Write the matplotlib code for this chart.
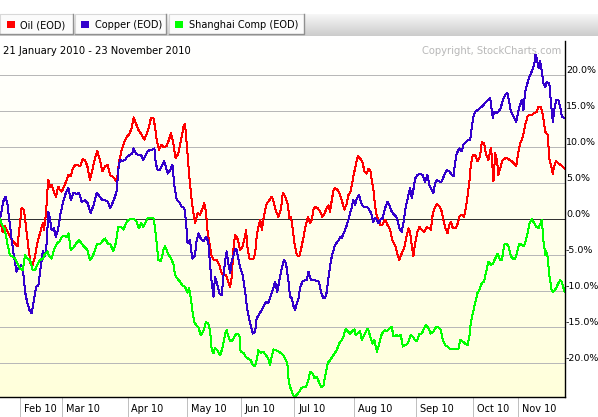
import matplotlib
matplotlib.use("Agg")
import matplotlib.pyplot as plt
import matplotlib.transforms as mtransforms
from matplotlib.colors import LinearSegmentedColormap
from matplotlib.patches import Rectangle
import numpy as np

# trading-session number since 21 Jan 2010 and % change
oil_t = [0, 0.9, 1.7, 2.9, 4.0, 5.2, 6.0, 6.6, 7.4, 8.2, 8.9, 9.7, 10.5, 11.2, 12.0, 12.8, 13.7, 14.7, 15.1, 15.8,
         16.3, 16.6, 17.2, 17.7, 18.3, 19.2, 20.0, 20.6, 21.2, 22.0, 22.9, 23.5, 24.3, 25.0, 25.8, 26.6, 27.5, 28.4,
         29.2, 30.0, 30.9, 31.8, 32.6, 33.4, 34.3, 35.1, 36.1, 37.0, 37.8, 38.9, 40.1, 40.9, 41.8, 42.7, 43.5, 44.3,
         45.2, 45.9, 46.6, 47.5, 48.6, 49.6, 50.4, 51.2, 51.8, 52.7, 53.2, 53.9, 54.6, 55.3, 56.1, 57.2, 58.0, 58.7,
         59.5, 60.3, 61.2, 62.2, 63.0, 63.5, 64.1, 64.7, 65.2, 65.8, 66.4, 67.0, 67.8, 68.7, 69.3, 70.1, 70.7, 71.2,
         71.9, 72.7, 73.5, 74.4, 75.3, 76.1, 76.7, 77.6, 78.4, 79.0, 79.6, 80.1, 80.7, 81.3, 81.8, 82.4, 83.3, 84.1,
         84.5, 84.9, 85.6, 86.4, 87.0, 87.6, 88.1, 88.7, 89.3, 89.9, 90.4, 91.0, 91.6, 92.5, 93.3, 93.9, 94.8, 95.6,
         96.4, 97.1, 97.9, 98.7, 99.4, 99.9, 100.4, 101.1, 101.9, 102.7, 103.4, 104.2, 105.0, 105.7, 106.5, 107.0,
         107.6, 108.2, 109.1, 109.9, 110.7, 111.4, 112.2, 112.8, 113.3, 113.9, 114.5, 115.0, 116.0, 116.8, 117.6,
         118.2, 119.1, 119.6, 120.2, 120.8, 121.3, 121.9, 122.8, 123.6, 124.4, 125.1, 125.9, 126.5, 127.1, 127.6,
         128.2, 128.8, 129.4, 129.9, 130.5, 131.3, 132.2, 133.0, 133.9, 134.8, 135.6, 136.4, 137.1, 137.9, 138.7,
         139.4, 140.2, 140.8, 141.4, 141.9, 142.5, 143.3, 144.0, 144.8, 145.6, 146.5, 147.4, 147.9, 148.6, 149.4,
         150.0, 150.9, 151.7, 152.2, 152.8, 153.6, 154.3, 154.8, 155.5, 156.3, 157.0, 157.7, 158.5, 159.3, 160.0,
         160.5, 161.2, 161.6, 162.3, 163.1, 163.9, 164.8, 165.4, 166.2, 166.9, 167.7, 168.5, 168.8, 169.4, 170.0,
         170.6, 171.1, 171.9, 172.6, 173.4, 174.2, 174.9, 175.7, 176.5, 177.2, 178.0, 178.6, 179.5, 180.3, 181.1,
         181.8, 182.6, 183.4, 184.3, 184.9, 185.7, 186.4, 187.2, 188.0, 188.6, 189.1, 189.8, 190.2, 190.9, 191.7,
         192.5, 193.8]
oil_v = [0, -1.8, -1.0, -2.0, -2.9, -3.4, -3.8, -1.5, 1.5, 1.25, -1.0, -3.8, -6.2, -6.4, -5.2, -3.4, -2.0, -0.6, -1.5, 0.8,
         4.0, 5.4, 4.5, 4.7, 4.0, 3.1, 4.5, 4.0, 3.8, 4.5, 5.4, 6.1, 5.9, 7.0, 7.5, 7.5, 7.3, 8.3,
         8.2, 7.3, 5.4, 7.0, 8.4, 9.4, 8.2, 6.6, 7.3, 7.5, 6.1, 5.8, 5.2, 8.0, 9.6, 10.7, 11.4, 11.7,
         12.6, 14.1, 13.3, 12.4, 11.7, 11.0, 11.9, 12.8, 14.0, 14.0, 12.8, 10.7, 9.6, 10.3, 10.0, 10.1, 11.0, 11.9,
         10.5, 8.4, 9.1, 11.0, 12.8, 13.2, 10.5, 7.3, 5.0, 2.6, 0.8, -0.6, 0.8, 0.6, 1.25, 2.2, 1.0, -1.5,
         -3.4, -5.2, -5.7, -5.7, -6.4, -7.5, -7.8, -7.8, -8.7, -9.4, -8.0, -4.3, -2.2, -2.5, -3.1, -4.3, -3.8, -2.5,
         -1.5, -3.8, -5.5, -5.6, -5.5, -4.8, -2.5, -1.1, -0.1, -1.5, -0.1, 1.25, 2.2, 2.6, 3.1, 2.4, 1.0, 0.3,
         1.25, 3.6, 3.1, 2.2, 0.1, 0.3, -1.1, -3.4, -5.0, -5.2, -4.1, -2.5, -0.8, 0.3, -0.6, -0.1,
         1.25, 1.7, 1.5, 1.0, 0.3, 0.8, 1.5, 1.9, 1.0, 2.6, 4.0, 4.3, 4.0, 3.3, 2.2,
         1.3, 2.2, 3.3, 3.6, 4.7, 5.9, 7.0, 8.7, 8.4, 8.0, 6.6, 6.3, 7.0, 6.8, 5.4,
         4.0, 1.7, 0.3, -0.1, -0.8, -0.8, -0.1, -0.8, -1.5, -3.1, -3.6, -4.8, -5.7, -4.8, -4.1,
         -2.7, -1.3, -1.8, -3.8, -5.2, -3.4, -1.8, -1.1, -1.5, -1.8, -1.1, -1.3, -1.5, 0.8, 1.7,
         2.1, 1.7, 1.0, -0.1, -1.1, -2.0, -0.8, -0.4, -1.3, -1.3, -0.8, 0.3, 0.6, 0.3, 1.7,
         3.1, 5.4, 7.3, 8.9, 8.9, 8.0, 8.7, 10.7, 10.5, 8.9, 8.2, 9.8, 8.9, 5.2, 9.1,
         8.2, 6.1, 7.3, 8.2, 8.4, 8.4, 8.2, 8.0, 7.7, 7.3, 9.4, 10.5, 11.4, 13.1, 14.2,
         14.5, 14.4, 14.7, 14.9, 15.6, 15.6, 14.4, 12.1, 11.7, 8.4, 7.5, 6.3, 7.3, 8.0, 7.7,
         7.5, 7.0]

copper_t = [0, 0.6, 1.1, 1.9, 2.5, 3.2, 4.0, 4.8, 5.7, 6.5, 7.2, 7.8, 8.6, 9.4, 10.1, 10.9, 11.4, 12.4, 13.2, 14.0,
            14.7, 15.5, 16.0, 16.6, 17.2, 17.7, 18.5, 19.2, 20.0, 20.8, 21.8, 22.6, 23.5, 24.3, 25.2, 26.3, 27.2,
            28.0, 29.2, 30.1, 31.1, 32.1, 33.2, 34.3, 35.1, 36.1, 37.0, 37.8, 38.6, 39.5, 40.1, 40.6, 41.2, 42.0,
            42.9, 43.8, 44.6, 45.4, 45.9, 46.6, 47.5, 48.4, 49.2, 49.8, 50.7, 51.5, 52.3, 53.0, 53.5, 54.1, 54.9,
            55.5, 56.3, 56.9, 57.6, 58.4, 59.2, 59.9, 60.7, 61.5, 62.4, 63.3, 63.8, 64.4, 65.2, 66.0, 67.0, 67.3,
            68.1, 68.9, 69.8, 70.7, 71.5, 72.1, 72.7, 73.3, 73.8, 74.4, 75.3, 76.1, 76.7, 77.3, 77.8, 78.4, 79.0,
            79.6, 80.1, 80.7, 81.3, 81.8, 82.4, 83.3, 84.1, 84.9, 85.9, 86.8, 87.6, 88.1, 89.1, 89.9, 90.7, 91.3,
            92.1, 92.7, 93.6, 94.4, 95.2, 95.9, 96.7, 97.5, 98.2, 99.0, 99.6, 100.2, 100.7, 101.3, 101.9, 102.5,
            103.0, 103.8, 104.7, 105.3, 105.9, 106.5, 107.0, 108.0, 108.7, 109.5, 110.2, 111.0, 111.6, 112.2,
            112.8, 113.3, 113.9, 114.5, 115.0, 116.0, 116.8, 117.3, 117.9, 118.5, 119.1, 119.6, 120.2, 120.8,
            121.3, 121.9, 122.5, 123.3, 124.0, 124.8, 125.6, 126.5, 127.4, 128.2, 128.8, 129.4, 129.9, 130.5,
            131.3, 132.2, 133.0, 133.7, 134.5, 135.3, 136.0, 136.4, 137.1, 137.9, 138.5, 139.1, 139.6, 140.2,
            140.8, 141.4, 141.9, 142.5, 143.3, 144.2, 145.1, 145.9, 146.7, 147.4, 148.2, 148.8, 149.4, 150.0,
            150.9, 151.7, 152.5, 153.4, 154.3, 155.1, 155.7, 156.2, 156.8, 157.7, 158.5, 159.1, 160.0, 160.8,
            161.4, 162.0, 162.5, 163.1, 163.9, 164.8, 166.0, 166.9, 167.7, 168.3, 168.8, 169.2, 169.6, 170.3,
            171.1, 171.9, 172.6, 173.4, 174.2, 174.9, 175.4, 176.1, 176.5, 177.2, 177.7, 178.3, 179.1, 179.7,
            180.3, 180.9, 181.8, 182.6, 183.4, 183.8, 184.3, 184.9, 185.4, 186.0, 186.6, 187.2, 187.7, 188.6,
            189.1, 189.8, 190.2, 190.9, 191.7, 192.3, 192.9, 193.8]
copper_v = [0, 1.25, 2.4, 3.1, 2.2, -0.1, -2.9, -5.2, -7.3, -6.6, -6.4, -6.6, -10.1, -11.7, -12.6, -13.1, -11.9, -9.4, -9.2, -6.6,
            -4.5, -5.2, -3.4, 1.0, -0.1, -1.5, -1.3, -2.5, -1.3, 0.8, 2.6, 3.6, 4.3, 2.6, 3.6, 3.5, 3.6,
            2.4, 2.6, 2.2, 0.8, 1.9, 3.6, 3.1, 2.6, 2.6, 2.4, 1.5, 2.2, 3.1, 4.0, 6.8, 8.2, 8.0,
            8.2, 8.7, 8.9, 9.1, 9.8, 9.1, 8.9, 8.9, 8.2, 8.7, 9.4, 9.6, 9.6, 9.8, 7.7, 6.8, 6.8,
            7.3, 8.0, 7.3, 6.3, 6.8, 7.5, 4.5, 2.6, 2.4, 1.7, 1.5, -0.1, -3.4, -2.9, -5.5, -5.0, -3.4,
            -2.0, -2.7, -3.1, -2.5, -3.1, -6.2, -8.9, -10.8, -8.0, -8.7, -10.3, -10.6, -8.0, -5.7, -4.5, -6.2, -7.5,
            -5.7, -5.2, -4.1, -4.3, -5.5, -6.6, -7.8, -9.9, -12.6, -14.5, -15.9, -15.6, -13.8, -13.1, -12.6, -11.9, -11.5,
            -11.7, -11.0, -9.9, -8.7, -10.1, -8.5, -6.9, -5.7, -6.2, -8.5, -10.8, -11.0, -12.0, -12.6, -11.7, -11.0,
            -9.6, -8.7, -8.5, -8.5, -7.3, -8.2, -8.5, -8.5, -8.6, -8.7, -10.1, -11.0, -11.0, -10.1,
            -8.0, -6.6, -5.2, -4.3, -3.6, -3.1, -2.5, -2.7, -2.0, -1.5, -0.8, -0.1, 0.8, 1.7,
            2.6, 1.9, 2.9, 3.3, 2.2, 1.7, 1.7, 1.5, 0.8, -0.4, 0.1, -0.1, -0.6, -0.1,
            0.1, 1.5, 2.4, 1.9, 1.0, 0.6, 0.3, -0.1, -1.3, -1.8, -0.6, 1.25, 2.2, 3.3,
            4.3, 2.9, 4.0, 5.6, 6.1, 6.3, 6.1, 5.2, 6.1, 4.7, 4.0, 3.6, 5.0, 5.4,
            5.2, 5.2, 6.1, 6.8, 6.6, 6.1, 5.9, 7.7, 9.1, 9.8, 9.4, 10.3, 10.7, 11.0,
            11.0, 12.8, 14.2, 14.9, 15.1, 15.4, 15.8, 16.3, 16.5, 16.8, 15.1, 14.0, 14.9, 14.7,
            14.9, 15.4, 16.5, 17.2, 17.5, 16.1, 14.9, 14.4, 14.0, 13.5, 14.4, 15.6, 16.5, 15.1,
            17.7, 18.6, 19.8, 20.5, 21.4, 22.8, 22.3, 20.9, 21.9, 20.5, 18.8, 18.3, 19.0, 18.8,
            16.3, 13.5, 14.9, 16.5, 16.5, 15.6, 14.2, 14.0]

shanghai_t = [0, 0.9, 1.7, 2.5, 3.4, 4.3, 5.2, 6.0, 6.9, 7.8, 8.6, 9.4, 10.3, 11.2, 12.0, 12.8, 13.7, 14.7, 15.5, 16.3,
              16.9, 17.7, 18.5, 19.5, 20.4, 21.2, 22.0, 22.9, 23.5, 24.3, 25.2, 26.1, 27.2, 28.0, 28.8, 30.0, 30.9,
              31.8, 32.6, 33.4, 34.3, 35.1, 36.1, 37.0, 37.8, 38.9, 39.7, 40.6, 41.6, 42.4, 43.2, 44.1, 45.0, 46.1,
              46.9, 47.7, 48.4, 49.2, 49.8, 50.7, 51.5, 52.7, 53.2, 53.8, 54.4, 55.3, 56.1, 56.7, 57.6, 58.7, 59.5,
              60.1, 61.0, 61.8, 62.6, 63.5, 64.4, 64.9, 65.6, 66.0, 66.7, 67.3, 68.1, 68.9, 69.8, 70.7, 71.5, 72.1,
              72.7, 73.3, 73.8, 74.6, 75.6, 76.5, 77.3, 77.8, 78.4, 79.0, 79.9, 80.7, 81.5, 82.2, 82.6, 83.6, 84.5,
              85.3, 86.1, 86.8, 87.6, 88.1, 88.7, 89.5, 90.4, 91.3, 92.1, 92.7, 93.3, 93.9, 94.8, 95.6, 96.4, 97.3,
              98.2, 98.7, 99.1, 99.6, 100.4, 101.1, 101.9, 102.7, 103.4, 104.2, 105.0, 105.7, 106.5, 107.3, 108.0,
              108.7, 109.5, 110.2, 111.0, 111.6, 112.5, 113.3, 114.1, 114.8, 115.6, 116.4, 117.3, 117.9, 118.7,
              119.4, 120.2, 120.8, 121.7, 122.1, 122.8, 123.6, 124.2, 124.8, 125.6, 126.3, 127.1, 127.9, 128.5,
              129.4, 130.2, 131.1, 132.2, 132.8, 133.7, 134.5, 135.1, 136.0, 136.8, 137.6, 138.3, 139.1, 139.9,
              140.6, 141.0, 141.7, 142.5, 143.1, 144.0, 144.8, 145.6, 146.3, 147.1, 147.9, 148.8, 149.7, 150.5,
              151.3, 152.0, 152.8, 153.6, 154.5, 156.2, 157.4, 158.0, 158.9, 159.7, 160.5, 161.2, 161.6, 162.3,
              163.1, 163.9, 164.8, 165.4, 166.2, 166.9, 167.7, 168.5, 169.2, 170.0, 170.8, 171.7, 172.3, 173.1,
              173.8, 174.6, 175.4, 176.1, 176.9, 177.7, 178.3, 179.1, 179.9, 180.6, 181.1, 181.8, 182.6, 183.4,
              184.1, 184.9, 185.7, 186.0, 186.6, 187.2, 187.5, 188.0, 188.6, 189.4, 190.0, 190.9, 191.7, 192.3,
              192.9, 193.8]
shanghai_v = [0, -1.0, -1.5, -3.4, -5.0, -5.2, -5.5, -6.2, -6.9, -7.1, -5.0, -5.5, -5.7, -7.1, -7.1, -6.4, -5.7, -5.5, -4.8, -4.5,
              -5.2, -5.5, -4.3, -3.4, -3.1, -2.5, -2.3, -2.5, -2.0, -4.3, -4.0, -3.4, -2.9, -3.4, -3.8, -4.3, -5.7,
              -5.2, -4.3, -3.4, -3.5, -3.1, -2.7, -3.4, -3.4, -4.5, -3.4, -1.1, -1.1, -1.5, -0.6, -0.1, 0.0, 0.0,
              -0.4, -1.3, -0.6, -1.1, -0.6, 0.1, 0.2, 0.1, -1.1, -3.4, -5.7, -5.8, -4.3, -3.8, -4.7, -5.5, -6.2,
              -7.8, -8.3, -8.7, -9.2, -9.4, -10.2, -9.6, -11.2, -12.6, -14.3, -14.7, -15.0, -16.1, -15.6, -14.3, -14.5, -15.4,
              -18.2, -18.6, -17.9, -18.2, -18.9, -17.7, -15.9, -15.4, -16.3, -17.0, -16.8, -16.1, -15.9, -16.1, -18.4, -18.6, -19.2,
              -19.4, -19.6, -20.3, -20.4, -19.6, -18.2, -18.6, -18.4, -18.9, -19.4, -20.3, -19.1, -18.1, -18.2, -18.4, -18.6, -18.9,
              -19.6, -20.3, -22.4, -23.3, -24.2, -24.7, -24.4, -24.0, -23.5, -23.3, -23.3, -22.6, -21.2, -21.4, -22.1,
              -21.9, -22.6, -23.3, -23.2, -21.9, -20.0, -19.6, -19.1, -18.7, -18.2, -17.3, -16.8, -16.3, -15.2,
              -15.6, -15.9, -15.6, -15.3, -16.1, -15.9, -15.6, -16.8, -16.3, -15.6, -15.2, -16.3, -17.3, -16.8,
              -18.4, -17.3, -15.9, -15.4, -15.6, -15.2, -15.0, -16.3, -16.1, -16.3, -16.1, -17.7, -17.5, -17.3,
              -16.6, -16.1, -16.3, -16.8, -17.0, -15.9, -15.9, -15.2, -14.7, -15.2, -15.9, -15.6, -15.0, -15.0,
              -15.4, -16.8, -17.5, -17.7, -18.0, -18.0, -18.0, -16.8, -17.0, -17.3, -17.5, -16.1, -14.5, -13.1,
              -11.7, -10.3, -9.6, -8.9, -8.7, -7.3, -5.9, -6.4, -6.2, -5.5, -4.8, -5.7, -5.7, -3.6,
              -3.4, -3.8, -5.2, -5.5, -5.5, -4.3, -3.4, -3.6, -3.8, -2.9, -2.0, -0.6, 0.0, -0.6,
              -1.1, -1.3, -0.4, -0.1, -3.1, -5.0, -4.5, -5.2, -7.8, -9.9, -10.1, -9.6, -8.9, -8.5,
              -8.7, -10.1]

# month boundaries (session number) and labels
month_pos = [6.9, 21.4, 43.9, 64.3, 82.7, 101.1, 121.7, 142.9, 162.5, 178.0]
month_labels = ["Feb 10", "Mar 10", "Apr 10", "May 10", "Jun 10", "Jul 10", "Aug 10", "Sep 10", "Oct 10", "Nov 10"]
y_ticks = [-20, -15, -10, -5, 0, 5, 10, 15, 20]

series = [("Oil (EOD)", oil_t, oil_v, "#ff0000"),
          ("Copper (EOD)", copper_t, copper_v, "#3300cc"),
          ("Shanghai Comp (EOD)", shanghai_t, shanghai_v, "#00ff00")]

W, H = 598, 417
PX = 0.72  # one pixel in points
fig = plt.figure(figsize=(W / 100, H / 100), dpi=100)
fig.patch.set_facecolor("white")

x_end = 193.8
y_lim = 24.7
ax = fig.add_axes([0, 20 / H, 564.5 / W, 356 / H])
ax.set_xlim(0, x_end)
ax.set_ylim(-y_lim, y_lim)

bg = LinearSegmentedColormap.from_list("bg", ["#ffffff", "#ffffdb"])
ax.imshow(np.linspace(0, 1, 256).reshape(-1, 1), cmap=bg, aspect="auto",
          extent=(0, x_end, -y_lim, y_lim), zorder=0)

for v in y_ticks:
    if v == 0:
        ax.axhline(v, color="#333333", lw=PX, zorder=1, antialiased=False)
    else:
        ax.axhline(v, color="#b8b8b8", lw=PX, zorder=1, antialiased=False)

for name, t, v, c in series:
    ax.plot(t, v, color=c, lw=PX, zorder=3, antialiased=False)

for s in ["left", "top"]:
    ax.spines[s].set_visible(False)
for s in ["right", "bottom"]:
    ax.spines[s].set_color("black")
    ax.spines[s].set_linewidth(1)
    ax.spines[s].set_zorder(4)

ax.yaxis.tick_right()
ax.set_yticks(y_ticks)
ax.set_yticklabels([f"{v:.1f}%" for v in y_ticks])
ax.tick_params(axis="y", length=0, pad=1, labelsize=6.8)
for lab in ax.get_yticklabels():
    lab.set_verticalalignment("bottom")
ax.set_xticks([])

trans = mtransforms.blended_transform_factory(ax.transData, ax.transAxes)
shift = mtransforms.ScaledTranslation(3.5 / 100, 0, fig.dpi_scale_trans)
for p, lab in zip(month_pos, month_labels):
    ax.plot([p, p], [0, -20 / 356], transform=trans, color="#c0c0c0", lw=PX, clip_on=False, antialiased=False)
    ax.text(p, -12 / 356, lab, transform=trans + shift, fontsize=7, va="center", ha="left")

# header: tabs, date range, copyright
ov = fig.add_axes([0, 0, 1, 1], zorder=5)
ov.set_xlim(0, W)
ov.set_ylim(H, 0)
ov.axis("off")
ov.patch.set_alpha(0)

strip = LinearSegmentedColormap.from_list("strip", ["#f7f7f7", "#cccccc"])
ov.imshow(np.linspace(0, 1, 64).reshape(-1, 1), cmap=strip, aspect="auto",
          extent=(0, W, 36, 14), zorder=0)

tabs = [(0, 72.5), (74.5, 166), (168.5, 303.5)]
for (x0, x1), (name, t, v, c) in zip(tabs, series):
    ov.add_patch(Rectangle((x0, 14), x1 - x0, 19.5, facecolor="#fbfbfb", edgecolor="none", zorder=1))
    ov.plot([x0, x0, x1], [33.5, 14, 14], color="#d8d8d8", lw=0.8, zorder=2)
    ov.plot([x1, x1, x0], [14, 33.5, 33.5], color="#909090", lw=1, zorder=2)
    ov.add_patch(Rectangle((x0 + 6.7, 20.7), 8, 7.3, facecolor=c, edgecolor="none", zorder=2))
    ov.text(x0 + 20.5, 25, name, fontsize=7, va="center", ha="left", zorder=3)

ov.text(2.7, 50.5, "21 January 2010 - 23 November 2010", fontsize=7.2, va="center", ha="left")
ov.text(561.7, 51, "Copyright, StockCharts.com", fontsize=7.2, va="center", ha="right", color="#b8b8b8")

fig.savefig("out.png", dpi=100)
